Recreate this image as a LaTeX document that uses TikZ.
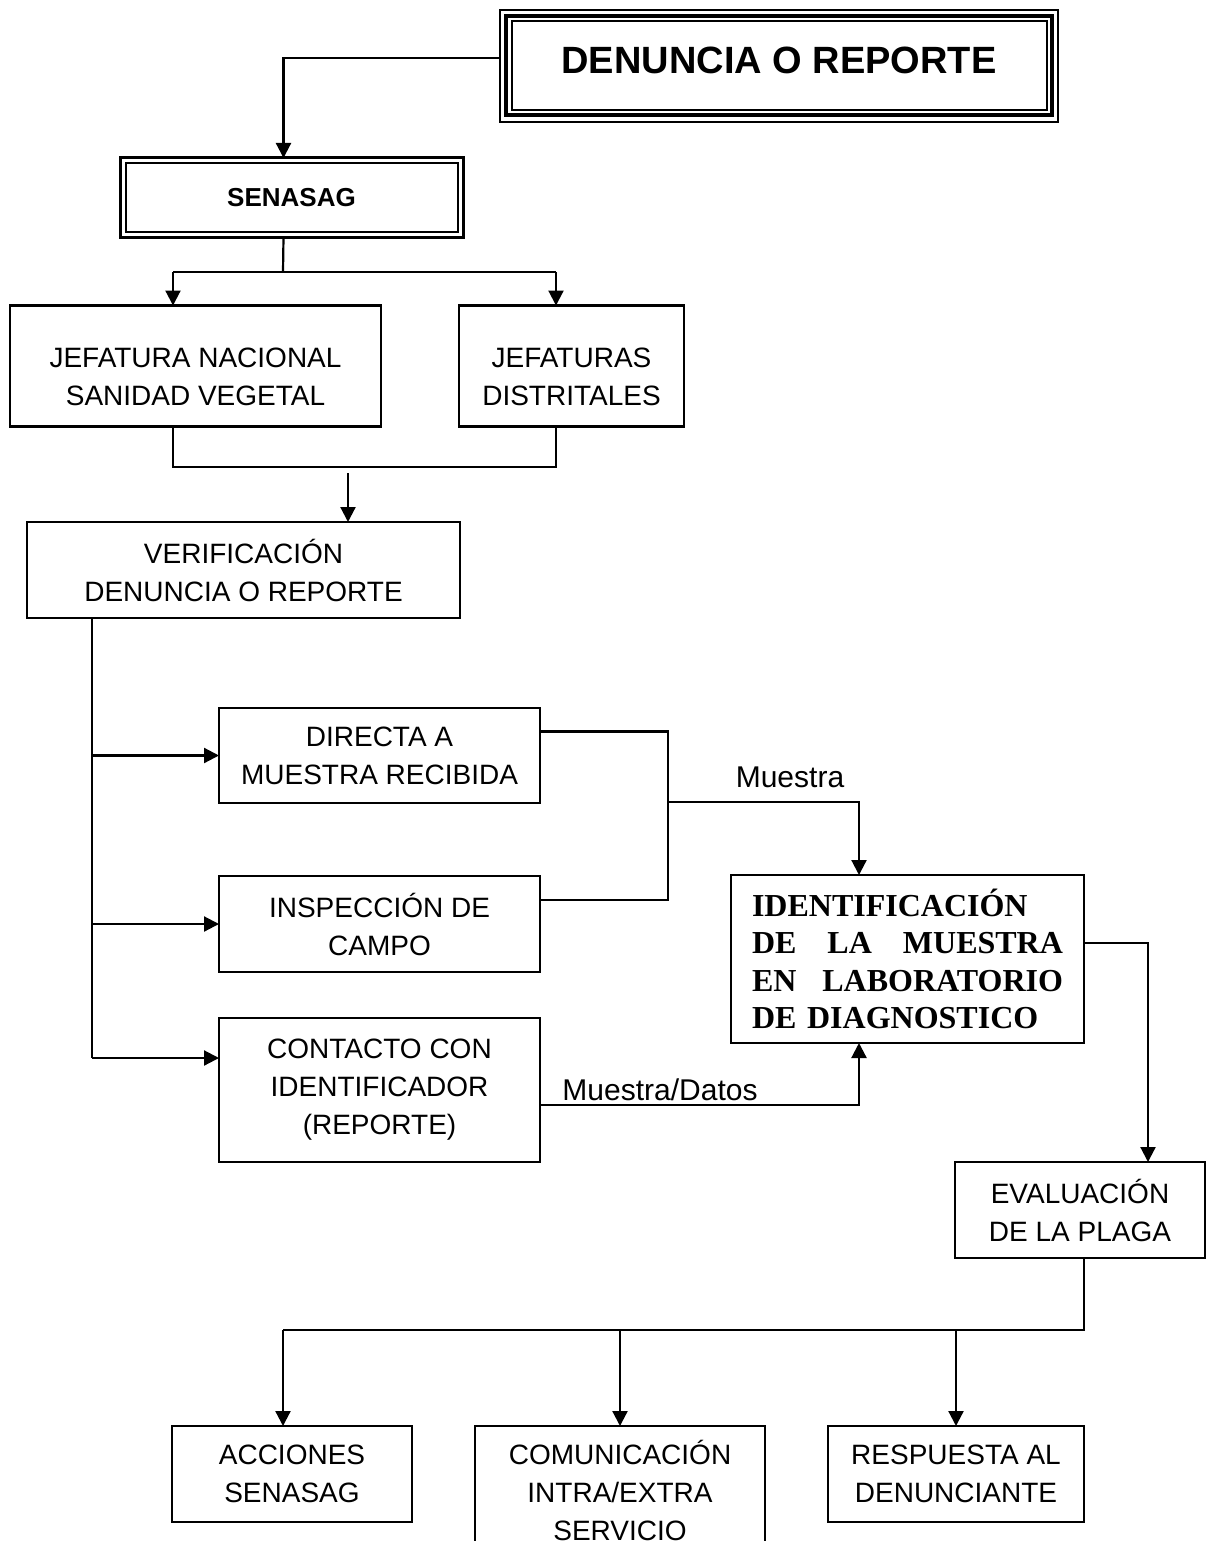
\documentclass[tikz,border=0pt]{standalone}
\usepackage{fontspec}
\setmainfont{Liberation Sans}
\newfontfamily\serifbf{Liberation Serif}
\usetikzlibrary{arrows.meta,positioning,calc}

\tikzset{
  box/.style={rectangle,draw,line width=2.2pt,inner sep=0pt,outer sep=0pt,align=center,font=\fontsize{28}{38}\selectfont},
  arr/.style={-{Triangle[length=15pt,width=15pt]}},
  lbl/.style={font=\fontsize{30}{36}\selectfont,inner sep=0pt},
}
\newcommand{\spreadrow}[1]{\leavevmode\hbox to 311pt{#1}}

\begin{document}
\begin{tikzpicture}[x=1pt,y=1pt,line width=2.2pt]
    \useasboundingbox (0,0) rectangle (1206,-1541);
    \clip (0,0) rectangle (1206,-1541);

    % cajas
    \node[box,minimum width=558,minimum height=112,line width=2.5pt,text depth=12pt,font=\bfseries\fontsize{38}{44}\selectfont] (reporte) at (779,-66) {DENUNCIA O REPORTE};
    \draw[line width=4pt] ([shift={(6,-6.5)}]reporte.north west) rectangle ([shift={(-6,6.5)}]reporte.south east);
    \draw[line width=2pt] ([shift={(11.5,-11.5)}]reporte.north west) rectangle ([shift={(-11.5,11.5)}]reporte.south east);

    \node[box,minimum width=343,minimum height=79,line width=3pt,font=\bfseries\fontsize{26}{30}\selectfont] (senasag) at (291.5,-197.5) {SENASAG};
    \draw[line width=2pt] ([shift={(5.5,-5.5)}]senasag.north west) rectangle ([shift={(-5.5,5.5)}]senasag.south east);

    \node[box,minimum width=371,minimum height=121] (jnacional) at (195.5,-366) {\rule{0pt}{42pt}JEFATURA NACIONAL\\SANIDAD VEGETAL};
    \node[box,minimum width=225,minimum height=121] (jdistrital) at (571.5,-366) {\rule{0pt}{42pt}JEFATURAS\\DISTRITALES};
    \node[box,minimum width=433,minimum height=96] (verifica) at (243.5,-570) {VERIFICACIÓN\\DENUNCIA O REPORTE};

    \node[box,minimum width=321,minimum height=95] (directa) at (379.5,-755.5) {DIRECTA A\\MUESTRA RECIBIDA};
    \node[box,minimum width=321,minimum height=96] (inspeccion) at (379.5,-924) {INSPECCIÓN DE\\CAMPO};
    \node[box,minimum width=321,minimum height=144] (contacto) at (379.5,-1090) {CONTACTO CON\\IDENTIFICADOR\\(REPORTE)};

    \node[box,minimum width=353,minimum height=168,text width=311,align=left,font=\serifbf\bfseries\fontsize{32}{37.5}\selectfont] (laboratorio) at (907.5,-959)
        {IDENTIFICACIÓN\\\spreadrow{DE\hfill LA\hfill MUESTRA}\\\spreadrow{EN\hfill LABORATORIO}\\DE DIAGNOSTICO};
    \node[box,minimum width=250,minimum height=96] (evaluacion) at (1080,-1210) {EVALUACIÓN\\DE LA PLAGA};

    \node[box,minimum width=240,minimum height=96] (acciones) at (292,-1474) {ACCIONES\\SENASAG};
    \node[box,minimum width=290,minimum height=128] (comunica) at (620,-1490) {COMUNICACIÓN\\INTRA/EXTRA\\SERVICIO};
    \node[box,minimum width=256,minimum height=96] (respuesta) at (956,-1474) {RESPUESTA AL\\DENUNCIANTE};

    % etiquetas
    \node[lbl] (lmuestra) at (790,-777) {Muestra};
    \node[lbl] (ldatos) at (660,-1090) {Muestra/Datos};

    % puntos de quiebre
    \coordinate (s1) at (283,-272);
    \coordinate (s1l) at (173,-272);
    \coordinate (s1r) at (556,-272);
    \coordinate (j1) at (173,-467);
    \coordinate (j2) at (556,-467);
    \coordinate (a1) at (348,-473);
    \coordinate (trk) at (92,-1058);
    \coordinate (mx) at (668,-802);
    \coordinate (id1) at (859,-802);
    \coordinate (id2) at (859,-1105);
    \coordinate (e1) at (1148,-943);
    \coordinate (ev) at (1084,-1330);
    \coordinate (q1) at (283,-1330);
    \coordinate (q2) at (620,-1330);
    \coordinate (q3) at (956,-1330);

    % conexiones
    \draw[arr] ([yshift=8pt]reporte.west) -| ([xshift=-8pt]senasag.north);
    \draw ([xshift=-8pt]senasag.south) -- (s1);
    \draw (s1l) -- (s1r);
    \draw[arr] (s1l) -- (s1l |- jnacional.north);
    \draw[arr] (s1r) -- (s1r |- jdistrital.north);
    \draw (j1 |- jnacional.south) -- (j1) -- (j2) -- (j2 |- jdistrital.south);
    \draw[arr] (a1) -- (a1 |- verifica.north);

    \draw (trk |- verifica.south) -- (trk);
    \draw[arr] (trk |- directa.west) -- (directa.west);
    \draw[arr] (trk |- inspeccion.west) -- (inspeccion.west);
    \draw[arr] (trk) -- (trk -| contacto.west);

    \coordinate (d1) at ([yshift=24pt]directa.east);
    \coordinate (i1) at ([yshift=24pt]inspeccion.east);
    \draw (d1) -| (mx |- i1) -- (i1);
    \draw[arr] (mx) -- (id1) -- (id1 |- laboratorio.north);

    \coordinate (c2) at ([yshift=-15pt]contacto.east);
    \draw[arr] (c2) -- (id2) -- (id2 |- laboratorio.south);

    \coordinate (l1) at ([yshift=16pt]laboratorio.east);
    \draw[arr] (l1) -- (l1 -| e1) -- (e1 |- evaluacion.north);

    \draw (ev |- evaluacion.south) -- (ev) -- (q1);
    \draw[arr] (q1) -- (q1 |- acciones.north);
    \draw[arr] (q2) -- (q2 |- comunica.north);
    \draw[arr] (q3) -- (q3 |- respuesta.north);
\end{tikzpicture}
\end{document}
